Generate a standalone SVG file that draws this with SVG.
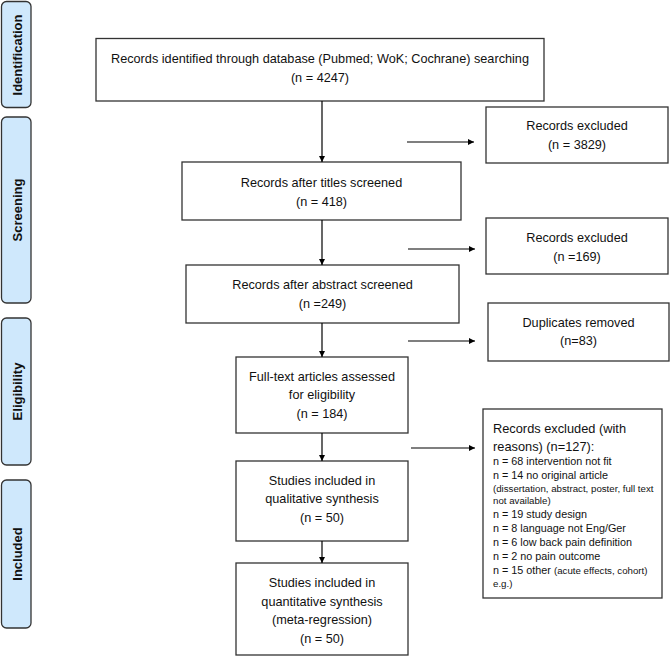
<svg xmlns="http://www.w3.org/2000/svg" width="670" height="656" viewBox="0 0 670 656">
<defs>
<marker id="ah" viewBox="0 0 10 10" refX="10" refY="5" markerWidth="6" markerHeight="6" markerUnits="userSpaceOnUse" orient="auto">
<path d="M0,0 L10,5 L0,10 z" fill="#000"/>
</marker>
<style>
.box{fill:#fff;stroke:#333;stroke-width:1.3}
.phase{fill:#cfe8fc;stroke:#333;stroke-width:1.3}
.t{font-family:"Liberation Sans",Arial,sans-serif;font-size:12.7px;fill:#111;text-anchor:middle}
.tl{font-family:"Liberation Sans",Arial,sans-serif;font-size:12.8px;fill:#111}
.ts{font-family:"Liberation Sans",Arial,sans-serif;font-size:10.8px;fill:#111}
.tx{font-family:"Liberation Sans",Arial,sans-serif;font-size:9.7px;fill:#111}
.ph{font-family:"Liberation Sans",Arial,sans-serif;font-size:13px;font-weight:bold;fill:#111;text-anchor:middle}
.c{stroke:#000;stroke-width:1.2;fill:none;marker-end:url(#ah)}
</style>
</defs>
<rect width="670" height="656" fill="#fff"/>
<g id="phase-identification"><rect class="phase" x="1.5" y="1.5" width="29.5" height="106" rx="5"/><text class="ph" transform="translate(22,55) rotate(-90)">Identification</text></g>
<g id="phase-screening"><rect class="phase" x="1.5" y="117" width="29.5" height="186" rx="5"/><text class="ph" transform="translate(22,210) rotate(-90)">Screening</text></g>
<g id="phase-eligibility"><rect class="phase" x="1.5" y="318" width="29.5" height="147" rx="5"/><text class="ph" transform="translate(22,391.5) rotate(-90)">Eligibility</text></g>
<g id="phase-included"><rect class="phase" x="1.5" y="480" width="29.5" height="148" rx="5"/><text class="ph" transform="translate(22,554) rotate(-90)">Included</text></g>

<g id="identified"><rect class="box" x="96" y="38.5" width="448" height="62.5"/><text class="t" x="320" y="62.5">Records identified through database (Pubmed; WoK; Cochrane) searching</text><text class="t" x="320" y="81.5">(n = 4247)</text></g>
<g id="excluded1"><rect class="box" x="486" y="107" width="182" height="56"/><text class="t" x="577" y="129.5">Records excluded</text><text class="t" x="577" y="149">(n = 3829)</text></g>
<g id="titles"><rect class="box" x="182" y="162" width="279" height="58"/><text class="t" x="321.5" y="186.5">Records after titles screened</text><text class="t" x="321.5" y="206">(n = 418)</text></g>
<g id="excluded2"><rect class="box" x="486" y="218" width="182" height="56"/><text class="t" x="577" y="241.5">Records excluded</text><text class="t" x="577" y="260.5">(n =169)</text></g>
<g id="abstract"><rect class="box" x="186" y="265" width="273" height="58"/><text class="t" x="322.5" y="289">Records after abstract screened</text><text class="t" x="322.5" y="308">(n =249)</text></g>
<g id="duplicates"><rect class="box" x="488" y="303" width="181" height="58"/><text class="t" x="578.5" y="326.5">Duplicates removed</text><text class="t" x="578.5" y="345">(n=83)</text></g>
<g id="fulltext"><rect class="box" x="236" y="357" width="172" height="76"/><text class="t" x="322" y="380.5">Full-text articles assessed</text><text class="t" x="322" y="399">for eligibility</text><text class="t" x="322" y="417.5">(n = 184)</text></g>
<g id="reasons"><rect class="box" x="483" y="409" width="179" height="189"/>
<text class="tl" x="493" y="432.5">Records excluded (with</text>
<text class="tl" x="493" y="451">reasons) (n=127):</text>
<text class="ts" x="493" y="465">n = 68 intervention not fit</text>
<text class="ts" x="493" y="479">n = 14 no original article</text>
<text class="tx" x="493" y="491.5">(dissertation, abstract, poster, full text</text>
<text class="tx" x="493" y="504">not available)</text>
<text class="ts" x="493" y="518">n = 19 study design</text>
<text class="ts" x="493" y="531.5">n = 8 language not Eng/Ger</text>
<text class="ts" x="493" y="546">n = 6 low back pain definition</text>
<text class="ts" x="493" y="559.5">n = 2 no pain outcome</text>
<text class="ts" x="493" y="573.5">n = 15 other <tspan class="tx">(acute effects, cohort)</tspan></text>
<text class="tx" x="493" y="587">e.g.)</text>
</g>
<g id="qualitative"><rect class="box" x="236" y="461" width="172" height="80"/><text class="t" x="322" y="484.5">Studies included in</text><text class="t" x="322" y="503">qualitative synthesis</text><text class="t" x="322" y="521.5">(n = 50)</text></g>
<g id="quantitative"><rect class="box" x="236" y="563" width="172" height="92"/><text class="t" x="322" y="587">Studies included in</text><text class="t" x="322" y="605.5">quantitative synthesis</text><text class="t" x="322" y="624">(meta-regression)</text><text class="t" x="322" y="642.5">(n = 50)</text></g>

<g id="connectors">
<path class="c" d="M322,101 V162"/>
<path class="c" d="M322,220 V265"/>
<path class="c" d="M322,323 V357"/>
<path class="c" d="M322,433 V461"/>
<path class="c" d="M322,541 V563"/>
<path class="c" d="M407,142 H474"/>
<path class="c" d="M408,249 H475"/>
<path class="c" d="M408,341 H475"/>
<path class="c" d="M411,448 H475"/>
</g>
</svg>
